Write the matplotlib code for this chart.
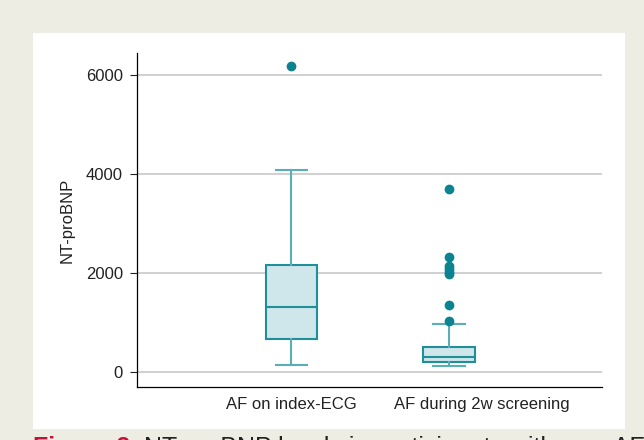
import matplotlib
matplotlib.use("Agg")
import matplotlib.pyplot as plt
from matplotlib.patches import Rectangle

plt.rcParams['font.family'] = ['Liberation Sans', 'DejaVu Sans']

# box summaries
groups = ["AF on index-ECG", "AF during 2w screening"]
q1 = [673, 208]
med = [1313, 310]
q3 = [2168, 519]
whislo = [141, 135]
whishi = [4087, 976]
fliers = [[6196], [3697, 2323, 2150, 2080, 2020, 1990, 1360, 1030]]
yticks = [0, 2000, 4000, 6000]

teal = "#0b8390"
edge = "#1f8f9a"
fill = "#cfe6ea"
whisk = "#5aaeb7"

fig = plt.figure(figsize=(6.44, 4.40), dpi=100)
fig.patch.set_facecolor("#eeede3")
# white panel behind the plot
panel = Rectangle((33 / 644, 1 - 429 / 440), 592 / 644, 396 / 440,
                  transform=fig.transFigure, facecolor="white",
                  edgecolor="none", zorder=-5)
fig.patches.append(panel)

ax = fig.add_axes([137 / 644, 1 - 387 / 440, 465 / 644, 334 / 440])
ax.set_facecolor("white")
ax.set_zorder(1)

stats = []
for i, g in enumerate(groups):
    stats.append(dict(label=g, q1=q1[i], med=med[i], q3=q3[i],
                      whislo=whislo[i], whishi=whishi[i], fliers=fliers[i]))

ax.bxp(stats, positions=[1, 2], widths=0.325, patch_artist=True,
       boxprops=dict(facecolor=fill, edgecolor=edge, linewidth=1.5),
       medianprops=dict(color=edge, linewidth=1.5),
       whiskerprops=dict(color=whisk, linewidth=1.5),
       capprops=dict(color=whisk, linewidth=1.5),
       capwidths=0.2,
       flierprops=dict(marker="o", markerfacecolor=teal, markeredgecolor=teal,
                       markersize=6))

ax.set_xlim(0.02, 2.97)
ax.set_ylim(-297, 6450)
ax.set_yticks(yticks)
ax.set_yticklabels([str(t) for t in yticks])
# the second label sits a bit right of its box in the source
ax.set_xticks([1, 2.21])
ax.set_xticklabels(groups)
ax.yaxis.grid(True, color="#c8c8c8", linewidth=1.2)
ax.set_axisbelow(True)
ax.tick_params(axis="y", length=5, width=0.8, pad=5, labelsize=12, colors="#222222")
ax.tick_params(axis="x", length=0, labelsize=12, pad=7, colors="#222222")
ax.set_ylabel("NT-proBNP", fontsize=12, labelpad=8, color="#222222")
for s in ["top", "right"]:
    ax.spines[s].set_visible(False)
ax.spines["left"].set_linewidth(0.9)
ax.spines["bottom"].set_linewidth(0.9)

# caption, cut off by the bottom edge as in the source
fig.text(33 / 644, 1 - 455 / 440, "Figure 2", color="#c4123a", fontsize=18,
         fontweight="bold", va="baseline")
fig.text(144 / 644, 1 - 455 / 440, "NT-proBNP levels in participants with new AF at",
         color="#222222", fontsize=18, va="baseline")

fig.savefig("out.png", dpi=100, facecolor=fig.get_facecolor())
